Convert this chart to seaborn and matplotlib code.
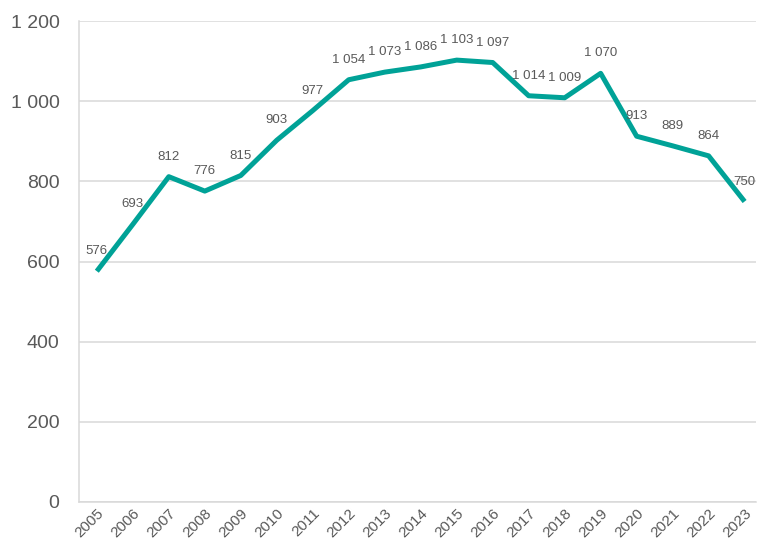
import matplotlib
matplotlib.use('Agg')

import matplotlib.pyplot as plt
import matplotlib.ticker as mticker
import seaborn as sns
import pandas as pd

# Data
years = ['2005', '2006', '2007', '2008', '2009', '2010', '2011', '2012', '2013', '2014',
         '2015', '2016', '2017', '2018', '2019', '2020', '2021', '2022', '2023']
values = [576, 693, 812, 776, 815, 903, 977, 1054, 1073, 1086,
          1103, 1097, 1014, 1009, 1070, 913, 889, 864, 750]

TEAL = '#00A297'
TEXT = '#595959'
GRID = '#D9D9D9'

sns.set_theme(style='white')
plt.rcParams['font.family'] = ['Liberation Sans', 'DejaVu Sans']

df = pd.DataFrame({'year': years, 'value': values})
df['x'] = range(len(df))


def fmt_space(v, pos=None):
    return f'{int(v):,}'.replace(',', ' ')


fig = plt.figure(figsize=(7.58, 5.45), dpi=100)
ax = fig.add_axes([0.104, 0.079, 0.894, 0.882])

sns.lineplot(data=df, x='x', y='value', color=TEAL, linewidth=3.6, ax=ax)
ax.lines[0].set_solid_capstyle('butt')

for x, v in zip(df['x'], df['value']):
    ax.annotate(fmt_space(v), (x, v), xytext=(0, 10), textcoords='offset points',
                ha='center', va='bottom', fontsize=9.5, color=TEXT)

ax.set_ylim(0, 1200)
ax.set_xlim(-0.5, len(years) - 0.67)
ax.set_yticks(range(0, 1201, 200))
ax.yaxis.set_major_formatter(mticker.FuncFormatter(fmt_space))
ax.set_xticks(df['x'])
ax.set_xticklabels(years, rotation=45, ha='right', rotation_mode='anchor')

ax.tick_params(axis='y', labelsize=14, colors=TEXT, length=0, pad=14)
ax.tick_params(axis='x', labelsize=11, colors=TEXT, length=0, pad=3)
ax.set_xlabel('')
ax.set_ylabel('')

ax.yaxis.grid(True, color=GRID, linewidth=1.1)
ax.xaxis.grid(False)
ax.set_axisbelow(True)
for s in ('top', 'right'):
    ax.spines[s].set_visible(False)
for s in ('left', 'bottom'):
    ax.spines[s].set_color(GRID)
    ax.spines[s].set_linewidth(1.1)

fig.savefig('out.png', dpi=100)
